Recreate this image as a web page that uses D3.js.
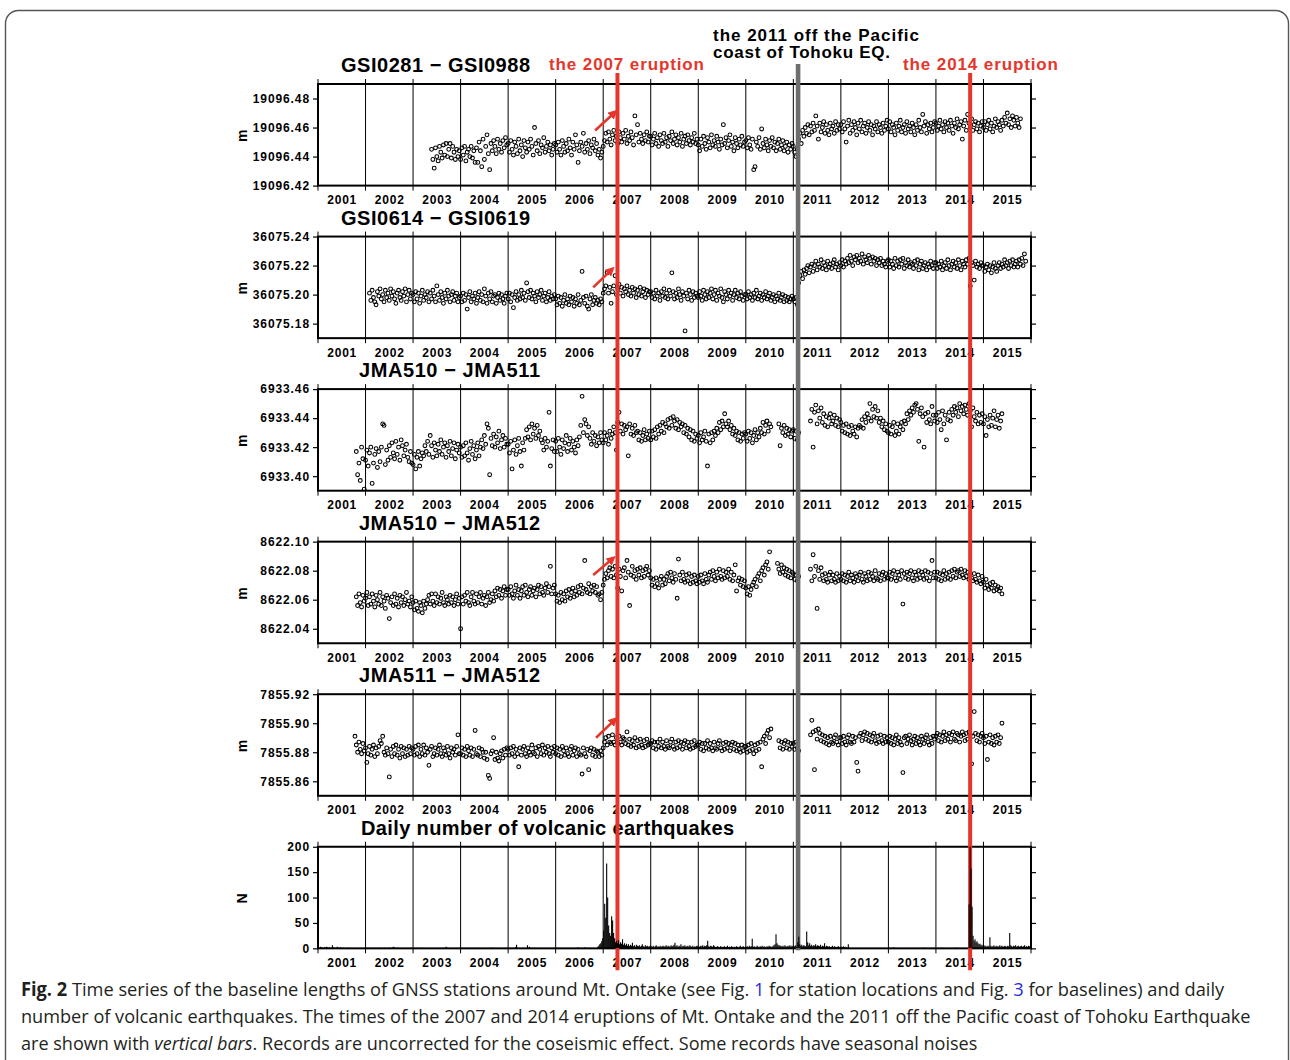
<!DOCTYPE html>
<html>
<head>
<meta charset="utf-8">
<script src="https://cdn.jsdelivr.net/npm/d3@7"></script>
<style>
  body { margin: 0; background: #fff; }
  svg { display: block; }
</style>
</head>
<body>
<div id="chart"></div>
<script>
// ---- data (baseline lengths sampled every 1/36 yr, in mm above a base length) ----
const STEP = 1 / 36;

// GSI0281 - GSI0988, mm above 19096.40 m, starts 2003 + 14/36
const gsi0281_0988_start = 2003 + 14 / 36;
const gsi0281_0988_mm = [
  45,38,32,46,40,37,47,43,39,48,41,49,40,45,49,39,47,43,38,45,40,44,
  38,46,41,47,37,43,45,40,47,39,44,36,46,36,50,44,33,52,38,47,55,42,31,49,44,51,47,42,52,45,49,43,51,46,53,48,
  49,43,51,45,41,50,47,42,52,44,48,40,51,46,43,50,45,52,47,41,60,49,44,51,42,48,46,53,43,47,50,44,48,41,45,49,
  48,43,50,45,41,51,47,43,49,44,52,46,41,50,45,55,48,36,44,50,47,56,43,49,45,51,42,48,46,52,44,49,41,45,39,43,
  47,51,56,50,57,52,48,55,58,51,54,49,57,53,50,56,52,58,49,54,51,57,53,48,68,55,62,50,56,52,49,55,51,57,50,54,
  54,48,52,56,49,53,47,55,51,49,56,50,53,47,54,51,57,49,52,55,48,53,50,56,47,52,54,49,55,51,48,53,50,56,49,52,
  48,44,52,47,54,49,45,53,50,46,55,48,51,47,54,50,45,52,48,62,49,53,46,51,55,47,50,44,53,49,46,52,48,54,47,50,
  51,46,53,48,45,52,31,33,50,47,53,45,59,49,46,52,48,44,51,47,53,46,50,44,49,52,45,48,51,44,47,50,43,48,45,49,
  47,43,40,45,52,56,49,58,54,60,56,62,55,61,57,63,58,68,61,52,63,57,60,64,56,62,58,55,63,59,61,56,64,58,62,59,
  62,57,64,59,50,61,65,56,62,58,64,60,55,63,59,65,57,61,63,56,60,64,58,62,55,61,59,64,57,62,60,56,63,58,61,65,
  59,64,57,62,60,55,63,58,61,65,57,60,62,56,64,59,61,57,63,60,55,62,58,65,60,57,69,61,64,56,62,59,63,57,60,64,
  63,58,61,65,59,62,57,64,60,63,58,65,61,56,63,60,66,59,62,64,52,61,65,58,69,63,60,66,58,62,64,59,63,57,61,64,
  60,64,58,62,65,59,63,57,61,66,60,64,62,58,65,61,67,63,70,62,66,60,68,65,61,67,63,60,66
];

// GSI0614 - GSI0619, mm above 36075.17 m, starts 2002 + 3/36
const gsi0614_0619_start = 2002 + 3 / 36;
const gsi0614_0619_mm = [
  31,26,33,28,25,23,32,29,34,27,30,25,33,28,31,26,34,29,32,27,24,31,33,28,26,32,29,34,25,30,33,27,31,
  30,25,32,27,31,24,29,33,26,30,28,32,25,31,27,33,29,25,36,30,26,32,28,24,31,27,33,29,25,30,32,26,29,31,25,28,
  29,25,31,26,30,20,28,32,25,29,27,31,24,28,32,26,30,25,34,29,24,31,27,32,25,29,30,24,28,31,26,30,27,24,29,31,
  27,31,25,30,21,28,32,26,30,27,33,28,31,26,38,32,28,33,27,31,29,25,32,28,30,33,26,29,31,25,28,32,26,29,27,30,
  27,23,29,24,28,22,26,30,24,27,23,29,25,28,22,27,24,30,23,26,46,28,24,29,22,20,27,30,23,26,28,24,26,23,27,25,
  31,34,36,45,31,35,24,32,36,43,30,34,37,31,35,29,34,32,36,30,33,29,35,31,34,28,33,30,35,29,32,34,28,33,30,32,
  32,28,31,27,33,29,31,26,32,29,34,28,31,27,33,29,45,32,27,31,28,34,30,26,32,29,5,31,27,33,30,26,32,28,31,29,
  28,32,29,26,33,30,27,32,28,31,34,27,30,33,26,31,29,34,28,25,32,30,27,33,29,31,26,30,33,28,31,27,32,29,26,30,
  30,27,32,28,30,26,31,28,33,27,29,31,26,30,28,32,27,29,31,26,28,30,25,29,27,31,26,28,30,25,29,26,28,25,27,29,
  27,25,28,23,38,43,46,41,47,44,48,50,45,49,51,46,50,53,47,51,49,54,48,52,50,47,53,49,51,48,52,54,49,51,47,52,
  50,54,49,53,51,55,52,57,53,50,56,54,57,52,55,53,58,51,56,54,52,57,55,51,56,53,55,50,54,52,55,50,53,51,49,53,
  54,49,53,51,48,55,50,53,49,54,51,55,48,52,50,54,49,52,51,48,53,50,54,47,51,53,48,50,52,47,51,49,53,50,48,52,
  52,48,51,49,53,47,50,52,48,54,50,47,51,53,49,52,48,54,50,47,53,51,49,54,51,55,36,52,50,40,53,49,51,48,52,50,
  50,46,49,51,47,50,45,49,52,48,46,50,52,48,51,49,54,50,52,48,53,50,54,49,51,53,49,54,51,55,50,58,53
];

// JMA510 - JMA511, mm above 6933.39 m, starts 2001 + 29/36
const jma510_511_start = 2001 + 29 / 36;
const jma510_511_mm = [
  27,11,19,7,30,22,1,
  21,28,17,26,30,5,19,25,29,16,27,20,30,46,45,18,28,21,31,23,33,26,22,34,25,30,21,35,31,24,28,32,23,20,27,19,
  18,25,15,23,27,17,22,26,24,31,27,34,25,38,31,23,33,28,24,32,27,35,25,30,33,23,31,27,34,24,29,33,22,28,32,26,
  30,23,31,24,33,26,21,29,34,25,31,22,28,33,24,30,35,29,38,32,46,43,11,36,31,39,30,37,33,41,29,35,38,30,36,32,
  32,26,34,15,28,35,25,31,36,27,17,33,28,36,42,37,44,35,46,39,43,36,45,38,41,35,33,28,36,30,34,54,17,29,35,27,
  34,27,36,30,25,35,29,33,38,27,32,36,28,34,30,26,35,31,37,45,65,40,49,46,38,44,36,32,40,34,38,31,37,33,40,35,
  33,40,35,38,32,41,36,39,44,40,28,47,54,41,46,39,45,42,44,24,46,39,43,38,45,40,41,35,40,34,38,42,35,39,36,41,
  35,41,37,42,36,44,39,45,41,47,40,46,44,49,43,50,45,51,48,43,49,42,47,44,46,40,45,39,43,37,42,35,41,34,39,36,
  38,33,40,35,37,41,34,17,39,33,40,35,41,38,43,40,47,42,48,44,53,46,44,48,42,45,39,43,38,41,35,40,34,39,36,40,
  39,34,41,36,40,33,38,42,35,40,37,43,40,47,39,45,48,41,46,44,null,null,null,null,null,46,31,43,40,45,38,43,39,42,37,41,
  42,36,41,35,40,null,null,null,null,null,null,null,null,48,56,30,54,59,46,55,50,57,47,53,45,51,44,50,53,46,48,52,45,50,44,49,
  47,41,45,40,46,39,44,38,45,41,39,44,37,43,45,44,49,43,51,47,53,50,60,48,56,51,58,50,55,47,50,44,48,42,46,41,
  40,45,39,44,47,38,41,46,39,44,47,42,48,46,53,49,55,52,57,54,59,60,56,34,53,57,51,30,53,47,54,49,46,58,52,48,
  52,47,54,49,42,55,46,52,35,49,54,48,56,52,58,54,57,51,60,55,58,53,59,56,52,60,55,44,57,51,48,54,46,52,47,53,
  46,51,38,49,44,52,45,50,55,44,49,52,43,48,53
];

// JMA510 - JMA512, mm above 8622.03 m, starts 2001 + 29/36
const jma510_512_start = 2001 + 29 / 36;
const jma510_512_mm = [
  32,26,34,28,25,33,29,
  31,35,26,32,27,34,29,25,33,30,27,35,26,32,29,24,33,31,17,28,32,26,34,27,31,25,33,28,32,26,30,35,27,29,25,32,
  28,23,29,24,22,28,26,21,29,24,27,30,33,27,34,29,26,34,28,32,27,31,35,28,26,32,30,27,33,28,32,26,30,34,27,31,
  10,32,27,33,29,35,28,26,32,35,29,27,34,28,32,35,27,31,33,26,32,35,28,30,34,29,36,32,38,33,37,31,36,39,33,37,
  37,33,39,34,31,36,40,33,37,31,36,39,33,40,35,32,37,39,33,36,38,32,37,40,34,39,35,33,38,41,35,39,53,34,38,40,
  34,29,33,28,35,30,34,29,36,32,37,31,35,38,32,36,33,39,35,40,34,38,57,37,35,41,34,39,36,40,35,39,33,34,30,35,
  40,44,48,45,50,52,46,51,45,53,47,38,51,46,36,50,52,45,57,49,26,47,53,46,50,44,51,47,52,45,50,46,51,53,47,50,
  45,40,44,39,45,41,38,44,46,40,44,41,46,48,43,49,45,42,48,44,31,58,47,43,49,44,42,47,43,48,41,46,42,47,43,41,
  46,42,47,43,41,48,44,42,47,49,44,50,46,43,49,45,51,46,44,50,45,49,46,51,44,49,43,47,54,36,43,45,40,44,39,43,
  38,34,39,33,37,40,42,44,39,46,48,43,50,52,47,54,56,51,63,null,null,null,null,null,55,51,48,54,49,52,47,51,46,50,45,49,
  48,44,47,43,46,null,null,null,null,null,null,null,null,51,43,61,46,53,24,50,44,52,47,43,48,44,42,47,49,43,47,44,42,48,43,46,
  44,48,43,47,42,46,49,43,47,45,42,48,46,43,47,49,44,42,48,46,43,49,44,48,46,43,50,45,44,48,43,47,49,44,48,45,
  45,49,44,48,50,45,43,49,47,44,50,27,48,45,49,44,48,50,45,43,49,47,44,50,45,49,47,44,50,45,49,43,48,57,45,49,
  45,49,44,48,43,47,50,44,48,45,49,44,50,46,51,45,49,50,46,51,47,45,50,46,49,44,48,45,43,48,44,42,47,43,41,46,
  42,38,44,40,37,41,38,42,36,40,37,39,36,38,34
];

// JMA511 - JMA512, mm above 7855.85 m, starts 2001 + 28/36
const jma511_512_start = 2001 + 28 / 36;
const jma511_512_mm = [
  41,35,30,37,32,29,36,31,
  33,23,29,34,28,32,35,27,33,29,34,38,36,41,30,28,33,29,13,32,27,34,29,35,28,32,26,34,29,33,27,32,28,34,29,33,
  32,28,34,29,35,27,32,29,35,28,33,30,21,32,34,27,29,33,28,32,35,29,27,33,31,28,34,29,26,33,30,32,28,34,42,29,
  29,33,28,32,27,34,31,28,33,27,32,45,29,28,33,27,32,30,26,30,25,14,12,29,31,40,25,30,26,24,29,31,26,32,28,33,
  32,28,33,29,34,27,32,29,20,33,28,32,34,29,27,33,30,28,35,30,29,33,27,34,32,29,35,28,33,30,34,29,27,33,30,34,
  29,33,28,32,27,34,31,28,33,29,27,32,34,28,31,33,27,32,29,28,15,33,29,27,32,18,31,33,28,32,27,31,30,27,31,28,
  33,37,40,35,41,37,36,42,37,35,40,36,41,37,35,40,39,36,44,35,39,34,38,35,40,33,38,34,39,35,33,38,34,39,35,36,
  36,38,33,37,32,37,34,39,33,37,34,32,38,34,33,37,39,34,32,37,33,38,34,37,32,36,38,33,37,34,32,37,33,38,34,35,
  35,37,32,36,31,36,33,38,32,36,33,31,37,33,32,36,38,33,31,36,32,37,33,36,31,35,37,32,36,31,35,32,30,35,31,34,
  34,30,35,31,36,32,29,35,31,36,32,37,20,39,41,36,43,45,40,46,null,null,null,null,null,38,33,37,32,36,38,33,37,32,36,34,
  36,32,37,33,31,null,null,null,null,null,null,null,null,42,52,44,18,45,39,46,43,38,42,37,41,36,40,35,41,37,36,40,42,37,35,40,
  40,36,41,37,35,40,42,37,36,41,37,40,23,17,41,43,38,42,44,39,43,38,42,37,41,43,38,36,41,37,42,38,36,41,37,40,
  37,41,36,40,35,39,42,36,40,37,35,16,40,41,36,39,42,38,35,39,41,36,40,37,35,41,39,36,40,42,37,35,40,36,41,39,
  41,43,38,42,37,41,44,38,42,39,43,37,42,44,39,38,43,42,37,41,44,42,38,43,39,44,42,22,41,58,43,38,42,37,41,43,
  40,36,41,25,37,42,36,40,35,41,37,42,36,40,50
];

// volcanic earthquakes, count per 1/48 yr bin, from 2001.0 (one row per year)
const QSTEP = 1 / 48;
const quakeCounts = [
  2,1,3,2,1,0,2,1,3,2,1,2, 0,1,6,2,1,0,1,3,1,0,2,1, 0,1,0,0,0,1,0,0,0,0,0,0, 0,0,0,0,0,0,0,0,0,0,0,1,
  0,0,1,0,0,0,1,0,0,0,0,0, 0,1,0,0,0,0,0,1,0,0,0,0, 1,0,0,2,3,1,0,0,1,0,0,0, 0,0,0,0,0,0,0,0,0,1,0,0,
  0,0,0,0,0,0,0,0,1,0,0,0, 0,0,0,0,0,0,0,0,0,0,0,0, 0,0,0,0,0,0,0,0,1,3,1,0, 0,0,0,0,0,0,0,0,0,0,0,0,
  0,0,0,0,0,0,0,0,0,0,0,1, 0,0,0,0,0,0,0,0,0,0,0,0, 0,0,0,0,0,0,0,0,1,0,0,0, 0,0,0,0,0,0,0,0,0,0,0,0,
  0,0,0,0,0,0,0,2,7,1,0,0, 0,0,0,0,0,0,0,6,1,3,0,0, 0,0,0,0,0,0,0,0,0,0,0,0, 0,0,0,0,0,0,0,0,0,0,0,0,
  0,0,0,0,0,0,0,0,0,0,0,0, 0,0,0,0,0,0,0,0,0,0,2,0, 0,0,0,0,0,2,0,0,0,0,0,0, 0,0,0,0,0,0,3,5,8,10,14,20,
  35,88,60,167,100,45,30,25,63,55,30,20, 12,15,10,16,8,12,9,18,7,10,6,9, 5,8,4,7,5,11,4,6,3,7,5,4, 6,3,5,8,4,3,6,4,5,3,4,5,
  4,3,5,2,4,6,3,4,2,5,3,4, 5,3,4,6,3,5,4,3,6,4,5,7, 11,4,6,3,5,4,8,3,5,4,6,3, 4,5,3,6,4,3,5,2,4,3,5,4,
  4,3,5,4,6,3,5,4,6,15,4,3, 5,4,3,6,4,2,3,4,3,2,4,3, 2,3,4,2,3,5,2,3,2,4,3,2, 3,2,4,3,2,3,5,2,3,4,2,3,
  3,4,2,5,3,4,19,3,4,2,3,5, 3,2,4,3,5,2,4,3,2,4,3,5, 4,3,2,5,6,8,28,10,7,5,6,4, 4,5,3,6,4,3,5,4,6,3,5,4,
  5,4,6,3,12,23,8,5,7,4,6,5, 4,33,12,6,10,5,7,4,6,5,8,4, 6,5,4,7,3,5,4,10,3,5,4,3, 4,2,3,5,2,4,3,2,3,4,2,3,
  3,2,4,2,3,2,1,8,1,0,0,0, 0,0,0,0,0,0,0,0,0,0,0,0, 0,0,0,0,0,0,0,0,0,0,0,0, 0,0,0,0,0,0,0,0,0,0,0,0,
  0,0,1,0,0,2,0,0,0,0,0,0, 0,0,0,0,0,0,0,0,0,0,0,0, 0,0,0,0,0,0,0,0,0,0,0,0, 1,0,0,0,0,0,0,0,0,0,0,0,
  0,0,0,0,0,1,0,0,0,0,0,0, 0,0,0,0,0,0,0,0,1,0,0,0, 0,0,0,0,0,0,0,0,0,87,210,157, 82,25,15,18,12,14,10,8,9,6,7,5,
  6,4,5,3,5,4,22,5,3,4,6,3, 4,5,3,4,6,3,5,4,3,5,4,3, 5,4,30,6,4,3,5,4,6,3,4,5, 3,4,5,3,4,6,3,4,3,5,4,3
];

// tick labels
const yearLabels = [2001,2002,2003,2004,2005,2006,2007,2008,2009,2010,2011,2012,2013,2014,2015];
const ticks_gsi0281_0988 = [19096.42, 19096.44, 19096.46, 19096.48];
const ticks_gsi0614_0619 = [36075.18, 36075.20, 36075.22, 36075.24];
const ticks_jma510_511 = [6933.40, 6933.42, 6933.44, 6933.46];
const ticks_jma510_512 = [8622.04, 8622.06, 8622.08, 8622.10];
const ticks_jma511_512 = [7855.86, 7855.88, 7855.90, 7855.92];
const ticks_quake = [0, 50, 100, 150, 200];

// events
const eruptionYears = [2007.30, 2014.72];
const tohokuYear = 2011.10;

// red arrows marking the 2007 step: panel, [year, mm] tail -> head
const arrows = [
  { panel: 0, from: [2006.83, 58], to: [2007.23, 70] },
  { panel: 1, from: [2006.79, 35], to: [2007.17, 47] },
  { panel: 3, from: [2006.79, 47], to: [2007.19, 58] },
  { panel: 4, from: [2006.85, 40], to: [2007.23, 52] }
];

// ---- drawing ----
const FONT = "'Liberation Sans', Arial, Helvetica, sans-serif";
const RED = "#e5362b";
const W = 1290, H = 1060;

const svg = d3.select("#chart").append("svg")
    .attr("width", W)
    .attr("height", H);

svg.append("rect")
    .attr("x", 5.5).attr("y", 10.5)
    .attr("width", 1283).attr("height", 1120)
    .attr("rx", 13)
    .attr("fill", "none")
    .attr("stroke", "#555")
    .attr("stroke-width", 1.4);

const x = d3.scaleLinear().domain([2001, 2016]).range([318, 1031]);

const panelTop = 84, panelStep = 152.55, panelH = 101.6;

const panels = [
    { title: "GSI0281 \u2212 GSI0988", tx: 341, tw: 189, base: 19096.40, start: gsi0281_0988_start, mm: gsi0281_0988_mm, domain: [19096.42, 19096.49], ticks: ticks_gsi0281_0988, unit: "m" },
    { title: "GSI0614 \u2212 GSI0619", tx: 341, tw: 189, base: 36075.17, start: gsi0614_0619_start, mm: gsi0614_0619_mm, domain: [36075.17, 36075.24], ticks: ticks_gsi0614_0619, unit: "m" },
    { title: "JMA510 \u2212 JMA511", tx: 359, tw: 181, base: 6933.39, start: jma510_511_start, mm: jma510_511_mm, domain: [6933.39, 6933.46], ticks: ticks_jma510_511, unit: "m" },
    { title: "JMA510 \u2212 JMA512", tx: 359, tw: 181, base: 8622.03, start: jma510_512_start, mm: jma510_512_mm, domain: [8622.03, 8622.10], ticks: ticks_jma510_512, unit: "m" },
    { title: "JMA511 \u2212 JMA512", tx: 359, tw: 181, base: 7855.85, start: jma511_512_start, mm: jma511_512_mm, domain: [7855.85, 7855.92], ticks: ticks_jma511_512, unit: "m" },
    { title: "Daily number of volcanic earthquakes", tx: 361, tw: 373, counts: quakeCounts, domain: [0, 200], ticks: ticks_quake, unit: "N" }
];

function boldText(sel, str, x0, y0, size, len, color)
{
    const t = sel.append("text")
        .attr("x", x0).attr("y", y0)
        .attr("font-family", FONT)
        .attr("font-weight", "bold")
        .attr("font-size", size)
        .attr("fill", color || "#000")
        .text(str);
    if(len) t.attr("textLength", len).attr("lengthAdjust", "spacing");
    return t;
}

const yScales = [];
let quakeLayer = null;

panels.forEach((p, i) => {
    const top = panelTop + i * panelStep;
    const bottom = top + panelH;
    const y = d3.scaleLinear().domain(p.domain).range([bottom, top]);
    yScales.push(y);
    const g = svg.append("g");

    // year grid lines (stick out a little above and below the frame)
    g.selectAll("line.grid")
        .data(d3.range(2001, 2017))
        .join("line")
        .attr("x1", d => x(d)).attr("x2", d => x(d))
        .attr("y1", top - 5).attr("y2", bottom + 5)
        .attr("stroke", "#000")
        .attr("stroke-width", 1);

    g.append("clipPath").attr("id", `clip${i}`)
        .append("rect")
        .attr("x", x(2001)).attr("y", top)
        .attr("width", x(2016) - x(2001)).attr("height", panelH);

    if(p.mm)
    {
        const pts = p.mm
            .map((v, k) => ({ t: p.start + k * STEP, v: v }))
            .filter(d => d.v !== null);
        g.append("g").attr("clip-path", `url(#clip${i})`)
            .selectAll("circle")
            .data(pts)
            .join("circle")
            .attr("cx", d => x(d.t))
            .attr("cy", d => y(p.base + d.v / 1000))
            .attr("r", 1.9)
            .attr("fill", "none")
            .attr("stroke", "#000")
            .attr("stroke-width", 1.05);
    }
    else
    {
        // bars go in their own layer, raised above the event bars later
        const bars = p.counts
            .map((v, k) => ({ t: 2001 + k * QSTEP, v: v }))
            .filter(d => d.v > 0);
        quakeLayer = svg.append("g").attr("clip-path", `url(#clip${i})`);
        quakeLayer.selectAll("line")
            .data(bars)
            .join("line")
            .attr("x1", d => x(d.t) + 0.5).attr("x2", d => x(d.t) + 0.5)
            .attr("y1", y(0))
            .attr("y2", d => y(Math.min(d.v, 205)))
            .attr("stroke", "#000")
            .attr("stroke-width", 1.1);
    }

    // frame
    g.append("rect")
        .attr("x", x(2001)).attr("y", top)
        .attr("width", x(2016) - x(2001)).attr("height", panelH)
        .attr("fill", "none")
        .attr("stroke", "#000")
        .attr("stroke-width", 2);

    // y axis left and right
    const fmt = p.mm ? (d => d.toFixed(2)) : d3.format("d");
    const left = g.append("g")
        .attr("transform", `translate(${x(2001)},0)`)
        .call(d3.axisLeft(y).tickValues(p.ticks).tickSize(5).tickPadding(3).tickFormat(fmt));
    left.select(".domain").remove();
    left.selectAll("line").attr("stroke-width", 1.2);
    left.selectAll("text")
        .attr("font-family", FONT)
        .attr("font-weight", "bold")
        .attr("font-size", 12)
        .style("letter-spacing", "0.9px");

    const right = g.append("g")
        .attr("transform", `translate(${x(2016)},0)`)
        .call(d3.axisRight(y).tickValues(p.ticks).tickSize(5).tickFormat(""));
    right.select(".domain").remove();
    right.selectAll("line").attr("stroke-width", 1.2);

    // year labels in the middle of each year
    g.selectAll("text.year")
        .data(yearLabels)
        .join("text")
        .attr("class", "year")
        .attr("x", d => x(d + 0.5) + 0.4)
        .attr("y", bottom + 18.5)
        .attr("text-anchor", "middle")
        .attr("font-family", FONT)
        .attr("font-weight", "bold")
        .attr("font-size", 12)
        .style("letter-spacing", "0.8px")
        .text(d => d);

    // title
    boldText(g, p.title, p.tx, top - 12, 20, p.tw);

    // unit label
    boldText(g, p.unit, 0, 0, 14)
        .attr("text-anchor", "middle")
        .attr("transform", `translate(${247},${(top + bottom) / 2 + 1}) rotate(-90)`);
});

// red arrows near the 2007 step
svg.append("defs").append("marker")
    .attr("id", "head")
    .attr("viewBox", "0 0 10 10")
    .attr("refX", 5).attr("refY", 5)
    .attr("markerWidth", 3.6).attr("markerHeight", 3.6)
    .attr("orient", "auto")
    .append("path")
    .attr("d", "M0,0 L10,5 L0,10 z")
    .attr("fill", RED);

arrows.forEach(a => {
    const p = panels[a.panel];
    const y = yScales[a.panel];
    svg.append("line")
        .attr("x1", x(a.from[0])).attr("y1", y(p.base + a.from[1] / 1000))
        .attr("x2", x(a.to[0])).attr("y2", y(p.base + a.to[1] / 1000))
        .attr("stroke", RED)
        .attr("stroke-width", 2.6)
        .attr("marker-end", "url(#head)");
});

// event bars
const lastBottom = panelTop + 5 * panelStep + panelH;
svg.append("line")
    .attr("x1", x(tohokuYear)).attr("x2", x(tohokuYear))
    .attr("y1", 64).attr("y2", lastBottom + 2)
    .attr("stroke", "#6e6e6e")
    .attr("stroke-width", 4.6);

svg.selectAll("line.erupt")
    .data(eruptionYears)
    .join("line")
    .attr("class", "erupt")
    .attr("x1", d => x(d)).attr("x2", d => x(d))
    .attr("y1", 73).attr("y2", lastBottom + 22)
    .attr("stroke", RED)
    .attr("stroke-width", 4);

quakeLayer.raise();

boldText(svg, "the 2007 eruption", 549, 69.5, 17, 155, RED);
boldText(svg, "the 2014 eruption", 903, 69.5, 17, 155, RED);
boldText(svg, "the 2011 off the Pacific", 713, 40.5, 17, 206);
boldText(svg, "coast of Tohoku EQ.", 713, 58, 17, 177);

// caption: natural text, squeezed horizontally to the reference line widths
const CAP = "'Open Sans', 'Noto Sans', sans-serif";
const cap = svg.append("g")
    .attr("font-family", CAP)
    .attr("font-size", 19)
    .attr("fill", "#231f20")
    .style("white-space", "pre");

function fitLine(t, x0, y0, width)
{
    const w = t.node().getComputedTextLength();
    t.attr("transform", `translate(${x0},${y0}) scale(${width / w},1)`);
}

const l1 = cap.append("text");
l1.append("tspan").attr("font-weight", "bold").text("Fig. 2");
l1.append("tspan").text("  Time series of the baseline lengths of GNSS stations around Mt. Ontake (see Fig. ");
l1.append("tspan").attr("fill", "#2b2bdc").text("1");
l1.append("tspan").text(" for station locations and Fig. ");
l1.append("tspan").attr("fill", "#2b2bdc").text("3");
l1.append("tspan").text(" for baselines) and daily");
fitLine(l1, 21, 996, 1204);

const l2 = cap.append("text")
    .text("number of volcanic earthquakes. The times of the 2007 and 2014 eruptions of Mt. Ontake and the 2011 off the Pacific coast of Tohoku Earthquake");
fitLine(l2, 21, 1023, 1230);

const l3 = cap.append("text");
l3.append("tspan").text("are shown with ");
l3.append("tspan").attr("font-style", "italic").text("vertical bars");
l3.append("tspan").text(". Records are uncorrected for the coseismic effect. Some records have seasonal noises");
fitLine(l3, 21, 1050, 957);
</script>
</body>
</html>
